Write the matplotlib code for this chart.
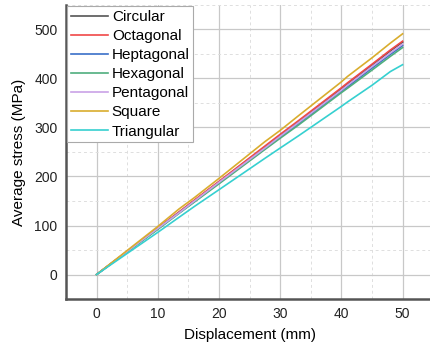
import matplotlib
matplotlib.use("Agg")
import matplotlib.pyplot as plt
from matplotlib.ticker import MultipleLocator

plt.rcParams['font.family'] = ['Liberation Sans', 'DejaVu Sans']

disp = [0, 10, 13.5, 16, 20, 27.5, 30, 33, 40, 41, 45, 48, 50]

series = {
    "Circular":   [0, 94, 127, 151, 189, 260, 284, 312, 379, 389, 427, 456, 474],
    "Octagonal":  [0, 95, 128, 152, 190, 262, 286, 314, 381, 391, 429, 458, 476],
    "Heptagonal": [0, 93, 126, 149, 187, 257, 280, 308, 374, 383, 421, 449, 467],
    "Hexagonal":  [0, 92, 125, 148, 185, 255, 278, 305, 371, 380, 417, 445, 463],
    "Pentagonal": [0, 94, 126, 150, 188, 258, 282, 310, 376, 386, 424, 452, 470],
    "Square":     [0, 98, 134, 157, 196, 271, 294, 324, 393, 404, 442, 472, 491],
    "Triangular": [0, 86, 117, 139, 173, 237, 258, 283, 343, 352, 386, 414, 428],
}
colors = {
    "Circular": "#555555",
    "Octagonal": "#f04848",
    "Heptagonal": "#3a6fc8",
    "Hexagonal": "#4fae7e",
    "Pentagonal": "#c9a2e6",
    "Square": "#d9ad2e",
    "Triangular": "#36d0d0",
}

fig = plt.figure(figsize=(4.31, 3.51), dpi=100)
ax = fig.add_axes([0.153, 0.148, 0.852, 0.838])

for name, vals in series.items():
    ax.plot(disp, vals, color=colors[name], lw=1.2, label=name)

ax.set_xlim(-5, 55)
ax.set_ylim(-50, 550)
ax.xaxis.set_major_locator(MultipleLocator(10))
ax.xaxis.set_minor_locator(MultipleLocator(5))
ax.yaxis.set_major_locator(MultipleLocator(100))
ax.yaxis.set_minor_locator(MultipleLocator(50))
ax.grid(which='major', color='#c8c8c8', lw=0.9)
ax.grid(which='minor', color='#dedede', lw=0.7, ls=(0, (3, 3)))
ax.set_axisbelow(True)
ax.tick_params(which='both', length=0, labelsize=10, pad=6, colors='#222222')

for s in ['top', 'right']:
    ax.spines[s].set_visible(False)
for s in ['left', 'bottom']:
    ax.spines[s].set_linewidth(1.8)
    ax.spines[s].set_color('#555555')

ax.set_xlabel("Displacement (mm)", fontsize=11, labelpad=5)
ax.set_ylabel("Average stress (MPa)", fontsize=11, labelpad=6)

leg = ax.legend(loc='upper left', fontsize=11, handlelength=2.4, handletextpad=0.25,
                labelspacing=0.33, borderaxespad=0.1, borderpad=0.25, fancybox=False,
                framealpha=1, edgecolor='#aaaaaa')
leg.get_frame().set_linewidth(0.8)

fig.savefig("out.png", dpi=100)
